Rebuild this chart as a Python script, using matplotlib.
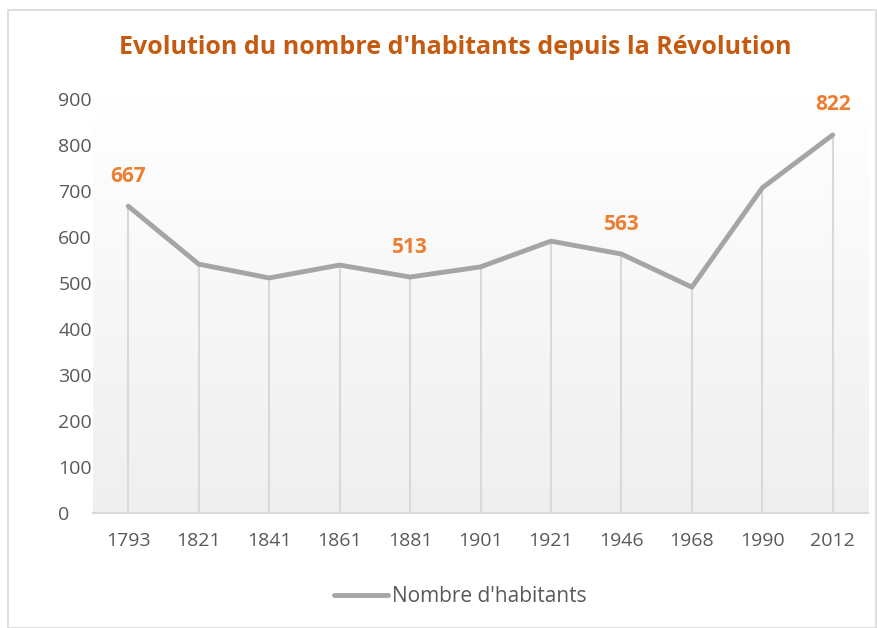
import matplotlib.pyplot as plt
import matplotlib.patches as patches
import numpy as np

years = ['1793', '1821', '1841', '1861', '1881', '1901', '1921', '1946', '1968', '1990', '2012']
habitants = [667, 541, 511, 539, 513, 535, 591, 563, 491, 707, 822]
labelled = ['1793', '1881', '1946', '2012']

plt.rcParams['font.family'] = ['Open Sans', 'DejaVu Sans']

W, H = 877, 628
fig = plt.figure(figsize=(W / 100, H / 100), dpi=100)

# outer chart frame
fig.patches.append(patches.Rectangle((8 / W, 0), (W - 9) / W, (H - 10) / H,
                                     transform=fig.transFigure, fill=False,
                                     edgecolor='#d9d9d9', linewidth=1.2))

ax = fig.add_axes([93 / W, 1 - 513 / H, (868 - 93) / W, (513 - 99) / H])
x = np.arange(len(years))

# background gradient, white at top to light gray at bottom
grad = np.linspace(0, 1, 256).reshape(-1, 1)
ax.imshow(grad, extent=[-0.5, len(years) - 0.5, 0, 900], aspect='auto',
          cmap=plt.matplotlib.colors.LinearSegmentedColormap.from_list('g', ['#ffffff', '#efefef']),
          origin='upper', zorder=0)

ax.vlines(x, 0, habitants, colors='#d9d9d9', linewidth=1.5, zorder=1)
ax.plot(x, habitants, color='#a5a5a5', linewidth=3.5, solid_capstyle='round',
        solid_joinstyle='round', zorder=2, label="Nombre d'habitants")

for i, y in enumerate(years):
    if y in labelled:
        ax.annotate(str(habitants[i]), (x[i], habitants[i]), xytext=(0, 14),
                    textcoords='offset points', ha='center', va='bottom',
                    color='#ed7d31', fontsize=15, fontweight='bold')

ax.set_xlim(-0.5, len(years) - 0.5)
ax.set_ylim(0, 900)
ax.set_yticks(range(0, 901, 100))
ax.set_xticks(x)
ax.set_xticklabels(years)
ax.tick_params(length=0, labelsize=14, labelcolor='#595959')
ax.tick_params(axis='x', pad=14)
ax.tick_params(axis='y', pad=25)
for lab in ax.get_yticklabels():
    lab.set_horizontalalignment('left')
for s in ['top', 'right', 'left']:
    ax.spines[s].set_visible(False)
ax.spines['bottom'].set_color('#d9d9d9')
ax.spines['bottom'].set_linewidth(1.5)

fig.text(455 / W, 1 - 48 / H, "Evolution du nombre d'habitants depuis la Révolution",
         ha='center', va='center', fontsize=18, fontweight='bold', color='#c55a11')

fig.legend(loc='center', bbox_to_anchor=(460 / W, 1 - 597 / H), frameon=False,
           fontsize=15, labelcolor='#595959', handlelength=2.6, handletextpad=0.2)

fig.savefig('out.png', dpi=100)
